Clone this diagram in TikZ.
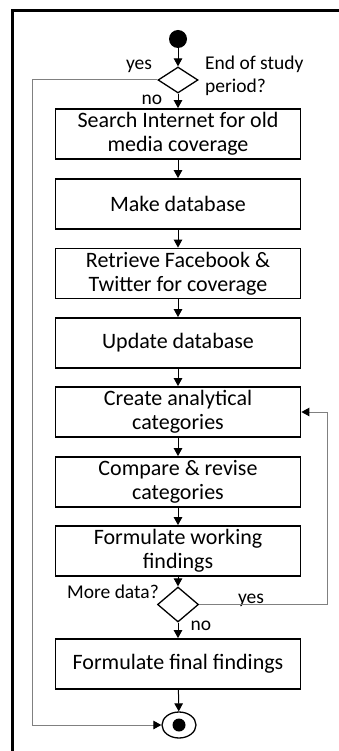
\documentclass[tikz,border=0pt]{standalone}
\usepackage{fontspec}
\setmainfont{Carlito}
\usetikzlibrary{shapes.geometric,arrows.meta}
\begin{document}
\begin{tikzpicture}[x=1pt,y=-1pt,
  stepbox/.style={draw=black,line width=1.8pt,minimum width=245pt,minimum height=50pt,inner sep=0pt,align=center,font=\fontsize{22}{24}\selectfont},
  dec/.style={draw=black,line width=1.3pt,shape=diamond,inner sep=0pt},
  lbl/.style={font=\fontsize{19.5}{23}\selectfont,inner sep=0pt},
  flow/.style={draw=black,line width=1pt,-{Triangle[length=8pt,width=8.5pt]}},
  loopflow/.style={draw=gray,line width=1pt,-{Triangle[length=8pt,width=8.5pt,color=black,fill=black]}},
  loopline/.style={draw=gray,line width=1pt}
]
\useasboundingbox (0,0) rectangle (339,751);
\fill[white] (0,0) rectangle (339,751);
\draw[line width=2.5pt] (12.5,751) -- (12.5,10.5) -- (339,10.5);

\node[circle,fill=black,minimum size=18pt,inner sep=0pt] (start) at (178,39) {};
\node[dec,minimum width=40pt,minimum height=26pt] (d1) at (178,80) {};
\node[stepbox] (b1) at (178,134) {Search Internet for old\\media coverage};
\node[stepbox] (b2) at (178,204) {Make database};
\node[stepbox] (b3) at (178,273.5) {Retrieve Facebook \&\\Twitter for coverage};
\node[stepbox] (b4) at (178,343) {Update database};
\node[stepbox] (b5) at (178,412) {Create analytical\\categories};
\node[stepbox] (b6) at (178,482) {Compare \& revise\\categories};
\node[stepbox] (b7) at (178,551) {Formulate working\\findings};
\node[dec,minimum width=41pt,minimum height=35pt] (d2) at (178,604.5) {};
\node[stepbox] (b8) at (178,664) {Formulate final findings};
\node[ellipse,draw=black,line width=1.3pt,minimum width=34pt,minimum height=26pt,inner sep=0pt] (end) at (179,725) {};
\fill[black] (end.center) circle (6.5pt);

\node[lbl] (yes1) at (139,66) {yes};
\node[lbl,anchor=west,align=left] (q1) at (205,75.5) {End of study\\period?};
\node[lbl] (no1) at (152,100) {no};
\node[lbl] (q2) at (113,592) {More data?};
\node[lbl] (yes2) at (251,600) {yes};
\node[lbl] (no2) at (201,626) {no};

\coordinate (l1) at (32,80);
\coordinate (l2) at (32,725);
\coordinate (r1) at (327,604.5);
\coordinate (r2) at (327,412);

\draw[flow] (start) -- (d1);
\draw[flow] (d1) -- (b1);
\draw[flow] (b1) -- (b2);
\draw[flow] (b2) -- (b3);
\draw[flow] (b3) -- (b4);
\draw[flow] (b4) -- (b5);
\draw[flow] (b5) -- (b6);
\draw[flow] (b6) -- (b7);
\draw[flow] (b7) -- (d2);
\draw[flow] (d2) -- (b8);
\draw[flow] (b8) -- (end);
\draw[loopline] (d1.west) -- (l1) -- (l2);
\draw[loopflow] (l2) -- (end.west);
\draw[loopline] (d2.east) -- (r1) -- (r2);
\draw[loopflow] (r2) -- (b5.east);
\end{tikzpicture}
\end{document}
